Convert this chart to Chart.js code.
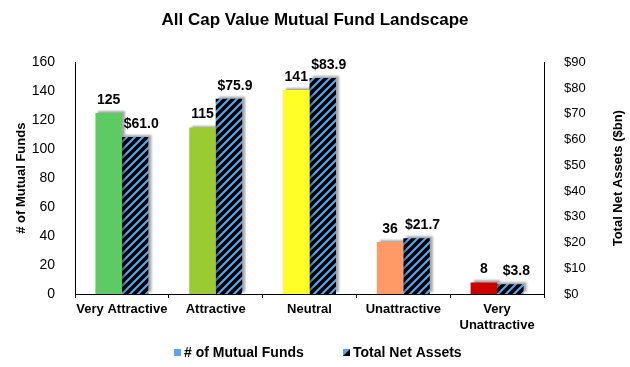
<!DOCTYPE html>
<html>
<head>
<meta charset="utf-8">
<script src="https://cdn.jsdelivr.net/npm/chart.js@4"></script>
<style>
  html, body { margin: 0; padding: 0; background: #fff; }
  #wrap { width: 630px; height: 367px; position: relative; }
</style>
</head>
<body>
<div id="wrap"><canvas id="fundChart" width="630" height="367"></canvas></div>
<script>
const CATEGORIES = ['Very Attractive', 'Attractive', 'Neutral', 'Unattractive', ['Very', 'Unattractive']];
const FUND_COUNTS = [125, 115, 141, 36, 8];
const NET_ASSETS = [61.0, 75.9, 83.9, 21.7, 3.8];
const LEFT_TICKS = [0, 20, 40, 60, 80, 100, 120, 140, 160];
const RIGHT_TICKS = [0, 10, 20, 30, 40, 50, 60, 70, 80, 90];
const SERIES_NAMES = ['# of Mutual Funds', 'Total Net Assets'];

const RATING_COLORS = ['#5DCB63', '#9BCB32', '#FFFF26', '#FF9966', '#CC0000'];
const STRIPE_BLUE = '#58A6F2';
const FONT = "'Liberation Sans', Arial, sans-serif";

function makeStripes() {
  const c = document.createElement('canvas');
  c.width = 8; c.height = 8;
  const g = c.getContext('2d');
  g.fillStyle = '#000';
  g.fillRect(0, 0, 8, 8);
  g.strokeStyle = STRIPE_BLUE;
  g.lineWidth = 2.2;
  g.beginPath();
  g.moveTo(-2, 10); g.lineTo(10, -2);
  g.moveTo(-6, 6); g.lineTo(6, -6);
  g.moveTo(2, 14); g.lineTo(14, 2);
  g.stroke();
  return g.createPattern(c, 'repeat');
}
const stripes = makeStripes();

// soft grey drop shadow behind the bars, up and to the right
const shadowPlugin = {
  id: 'barShadow',
  beforeDatasetsDraw(chart) {
    const ctx = chart.ctx;
    ctx.save();
    ctx.shadowColor = 'rgba(0,0,0,0.35)';
    ctx.shadowOffsetX = 3;
    ctx.shadowOffsetY = -2;
    ctx.shadowBlur = 2;
  },
  afterDatasetsDraw(chart) {
    chart.ctx.restore();
  }
};

const valueLabels = {
  id: 'valueLabels',
  afterDatasetsDraw(chart) {
    const ctx = chart.ctx;
    ctx.save();
    ctx.font = 'bold 14px ' + FONT;
    ctx.fillStyle = '#000';
    ctx.textAlign = 'center';
    ctx.textBaseline = 'bottom';
    chart.data.datasets.forEach((ds, i) => {
      chart.getDatasetMeta(i).data.forEach((bar, j) => {
        const v = ds.data[j];
        const txt = i === 0 ? String(v) : '$' + v.toFixed(1);
        ctx.fillText(txt, bar.x + (i === 1 ? 6 : 0), bar.y - 6);
      });
    });
    ctx.restore();
  }
};

// right-hand axis title reads bottom-to-top, plus the bottom legend
const extras = {
  id: 'extras',
  afterDraw(chart) {
    const ctx = chart.ctx;
    const area = chart.chartArea;
    ctx.save();
    ctx.translate(618, (area.top + area.bottom) / 2);
    ctx.rotate(-Math.PI / 2);
    ctx.font = 'bold 13px ' + FONT;
    ctx.fillStyle = '#000';
    ctx.textAlign = 'center';
    ctx.textBaseline = 'middle';
    ctx.fillText('Total Net Assets ($bn)', 0, 0);
    ctx.restore();

    ctx.save();
    const ly = 352;
    ctx.font = 'bold 14px ' + FONT;
    ctx.textBaseline = 'middle';
    // first entry: plain blue square
    ctx.fillStyle = STRIPE_BLUE;
    ctx.fillRect(174, ly - 3, 7, 7);
    ctx.fillStyle = '#000';
    ctx.fillText(SERIES_NAMES[0], 184, ly + 1);
    // second entry: half blue / half black square
    ctx.fillStyle = '#000';
    ctx.fillRect(343, ly - 3, 7, 7);
    ctx.fillStyle = STRIPE_BLUE;
    ctx.beginPath();
    ctx.moveTo(343, ly - 3); ctx.lineTo(350, ly - 3); ctx.lineTo(343, ly + 4);
    ctx.closePath();
    ctx.fill();
    ctx.fillStyle = '#000';
    ctx.fillText(SERIES_NAMES[1], 353, ly + 1);
    ctx.restore();
  }
};

new Chart(document.getElementById('fundChart'), {
  type: 'bar',
  data: {
    labels: CATEGORIES,
    datasets: [
      { label: SERIES_NAMES[0], data: FUND_COUNTS, backgroundColor: RATING_COLORS, yAxisID: 'y', borderWidth: 0 },
      { label: SERIES_NAMES[1], data: NET_ASSETS, backgroundColor: stripes, yAxisID: 'y1', borderWidth: 0 }
    ]
  },
  options: {
    responsive: false,
    animation: false,
    devicePixelRatio: 1,
    categoryPercentage: 0.565,
    barPercentage: 1.0,
    layout: { padding: { left: 0, right: 0, top: 0, bottom: 33 } },
    plugins: {
      title: {
        display: true,
        text: 'All Cap Value Mutual Fund Landscape',
        color: '#000',
        font: { family: FONT, size: 17, weight: 'bold' },
        padding: { top: 10, bottom: 32 }
      },
      legend: { display: false },
      tooltip: { enabled: false }
    },
    scales: {
      x: {
        offset: true,
        afterFit: (axis) => { axis.height = 40; },
        grid: { display: true, drawOnChartArea: false, tickLength: 4, color: '#000', offset: true },
        border: { display: true, color: '#000' },
        ticks: { color: '#000', font: { family: FONT, size: 13, weight: 'bold' }, maxRotation: 0, autoSkip: false, padding: 4 }
      },
      y: {
        position: 'left',
        min: 0, max: 160,
        afterFit: (axis) => { axis.width = 75; },
        afterBuildTicks: (axis) => { axis.ticks = LEFT_TICKS.map(v => ({ value: v })); },
        grid: { display: false },
        border: { display: true, color: '#000' },
        ticks: { color: '#000', font: { family: FONT, size: 14 }, padding: 12 },
        title: { display: true, text: '# of Mutual Funds', color: '#000', font: { family: FONT, size: 13, weight: 'bold' }, padding: { top: 14, bottom: 0 } }
      },
      y1: {
        position: 'right',
        min: 0, max: 90,
        afterFit: (axis) => { axis.width = 86; },
        afterBuildTicks: (axis) => { axis.ticks = RIGHT_TICKS.map(v => ({ value: v })); },
        grid: { display: false },
        border: { display: true, color: '#000' },
        ticks: { color: '#000', font: { family: FONT, size: 13 }, padding: 12, callback: (v) => '$' + v }
      }
    }
  },
  plugins: [shadowPlugin, valueLabels, extras]
});
</script>
</body>
</html>
